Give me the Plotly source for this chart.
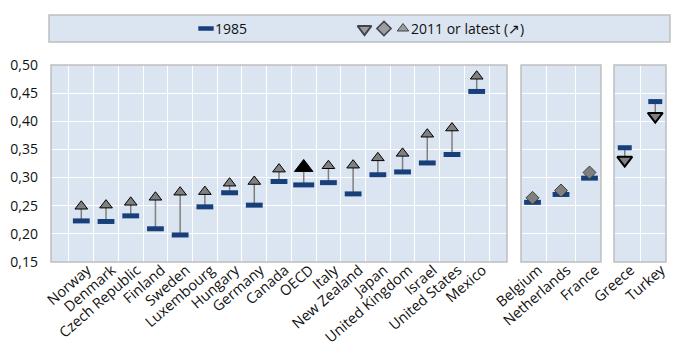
import plotly.graph_objects as go

# ---------------- data ----------------
panel1 = ["Norway", "Denmark", "Czech Republic", "Finland", "Sweden", "Luxembourg",
          "Hungary", "Germany", "Canada", "OECD", "Italy", "New Zealand", "Japan",
          "United Kingdom", "Israel", "United States", "Mexico"]
p1_1985 = [0.223, 0.222, 0.232, 0.209, 0.198, 0.248, 0.273, 0.251, 0.293, 0.287,
           0.291, 0.271, 0.305, 0.310, 0.326, 0.341, 0.453]
p1_2011 = [0.249, 0.251, 0.256, 0.265, 0.274, 0.275, 0.290, 0.293, 0.315, 0.318,
           0.321, 0.322, 0.335, 0.343, 0.377, 0.388, 0.480]

panel2 = ["Belgium", "Netherlands", "France"]
p2_1985 = [0.256, 0.270, 0.299]
p2_2011 = [0.264, 0.277, 0.309]

panel3 = ["Greece", "Turkey"]
p3_1985 = [0.353, 0.435]
p3_2011 = [0.331, 0.409]

y_ticks = [0.15, 0.20, 0.25, 0.30, 0.35, 0.40, 0.45, 0.50]

# ---------------- style ----------------
FONT = "Open Sans, sans-serif"
BG = "#dbe5f1"
BLUE = "#17407a"
GREY = "#7f7f7f"
BORDER = "#bfbfbf"
TXT = "#111111"

W, H = 680, 352
ML, MR, MT, MB = 51, 14, 0, 90
PW = W - ML - MR
PH = H - MT - MB


def px_x(p):
    return (p - ML) / PW


def px_y(p):
    return (H - MB - p) / PH


fig = go.Figure()

panels = [
    ("x", panel1, p1_1985, p1_2011),
    ("x2", panel2, p2_1985, p2_2011),
    ("x3", panel3, p3_1985, p3_2011),
]

for xa, cats, v85, v11 in panels:
    lx, ly = [], []
    for c, a, b in zip(cats, v85, v11):
        lx += [c, c, None]
        ly += [a, b, None]
    fig.add_trace(go.Scatter(x=lx, y=ly, mode="lines", xaxis=xa, yaxis="y",
                             line=dict(color=GREY, width=1.5), hoverinfo="skip",
                             showlegend=False))
    sizes = [15 if c == "OECD" else (10 if xa == "x3" else 12) for c in cats]
    fig.add_trace(go.Scatter(x=cats, y=v85, mode="markers", xaxis=xa, yaxis="y",
                             marker=dict(symbol="line-ew", size=sizes, opacity=1,
                                         color=BLUE,
                                         line=dict(color=BLUE, width=5)),
                             showlegend=False, name="1985"))

# 2011 markers
fig.add_trace(go.Scatter(
    x=panel1, y=p1_2011, mode="markers", xaxis="x", yaxis="y",
    marker=dict(symbol="triangle-up", opacity=1,
                size=[16 if c == "OECD" else 11 for c in panel1],
                color=["#000000" if c == "OECD" else "#808080" for c in panel1],
                line=dict(color="#000000", width=1)),
    showlegend=False, name="2011"))
fig.add_trace(go.Scatter(
    x=panel2, y=p2_2011, mode="markers", xaxis="x2", yaxis="y",
    marker=dict(symbol="diamond", size=10, color="#808080", opacity=1,
                line=dict(color="#404040", width=1)),
    showlegend=False, name="2011"))
fig.add_trace(go.Scatter(
    x=panel3, y=p3_2011, mode="markers", xaxis="x3", yaxis="y",
    marker=dict(symbol="triangle-down", size=13, color="#808080", opacity=1,
                line=dict(color="#000000", width=2)),
    showlegend=False, name="2011"))

# legend icons on a helper axis measured in pixels
leg_y0, leg_y1 = 15, 42
fig.add_trace(go.Scatter(
    x=[206], y=[28.5], mode="markers", xaxis="x4", yaxis="y4",
    marker=dict(symbol="line-ew", size=11, color=BLUE,
                line=dict(color=BLUE, width=4.5)),
    showlegend=False, hoverinfo="skip"))
fig.add_trace(go.Scatter(
    x=[364.5, 384, 403], y=[29, 28.5, 28.5], mode="markers", xaxis="x4", yaxis="y4",
    marker=dict(symbol=["triangle-down", "diamond", "triangle-up"],
                size=[12, 11, 10], color="#808080",
                line=dict(color="#000000", width=[2, 1.5, 1])),
    showlegend=False, hoverinfo="skip"))

d1 = [0, px_x(507)]
d2 = [px_x(521), px_x(601)]
d3 = [px_x(614), 1]
ydom = [0, px_y(65)]

common_x = dict(type="category", tickson="boundaries", showgrid=True,
                gridcolor="white", gridwidth=1, ticks="", zeroline=False,
                tickangle=-41, tickfont=dict(family=FONT, size=14.5, color=TXT),
                anchor="y", fixedrange=True, automargin=False,
                ticklabelstandoff=-4, ticklabelshift=6)

fig.update_layout(
    width=W, height=H,
    margin=dict(l=ML, r=MR, t=MT, b=MB, autoexpand=False),
    paper_bgcolor="white", plot_bgcolor=BG,
    separators=", ",
    font=dict(family=FONT, size=14, color=TXT),
    xaxis=dict(domain=d1, categoryorder="array", categoryarray=panel1, **common_x),
    xaxis2=dict(domain=d2, categoryorder="array", categoryarray=panel2, **common_x),
    xaxis3=dict(domain=d3, categoryorder="array", categoryarray=panel3, **common_x),
    yaxis=dict(domain=ydom, range=[0.15, 0.50], tickvals=y_ticks, tickformat=".2f",
               showgrid=True, gridcolor="white", gridwidth=1, zeroline=False,
               ticks="", tickfont=dict(family=FONT, size=14, color=TXT),
               anchor="x", fixedrange=True, ticklabelstandoff=12, automargin=False),
    xaxis4=dict(domain=[0, 1], range=[ML, W - MR], visible=False, anchor="y4",
                fixedrange=True, automargin=False),
    yaxis4=dict(domain=[px_y(leg_y1), px_y(leg_y0)], range=[leg_y1, leg_y0],
                visible=False, anchor="x4", fixedrange=True, automargin=False),
    showlegend=False,
)

shapes = []
for xr in ["x", "x2", "x3"]:
    shapes.append(dict(type="rect", xref=f"{xr} domain", yref="y domain",
                       x0=0, x1=1, y0=0, y1=1, line=dict(color=BORDER, width=1.5),
                       fillcolor="rgba(0,0,0,0)", layer="above"))
shapes.append(dict(type="rect", xref="paper", yref="paper",
                   x0=px_x(49), x1=px_x(670), y0=px_y(leg_y1), y1=px_y(leg_y0),
                   line=dict(color=BORDER, width=1.5), fillcolor=BG, layer="below"))
fig.update_layout(shapes=shapes)

fig.add_annotation(x=px_x(213), y=px_y(28.5), xref="paper", yref="paper",
                   text="1985", showarrow=False, xanchor="left", yanchor="middle",
                   font=dict(family=FONT, size=14, color=TXT))
fig.add_annotation(x=px_x(409), y=px_y(28.5), xref="paper", yref="paper",
                   text="2011 or latest (↗)", showarrow=False, xanchor="left",
                   yanchor="middle", font=dict(family=FONT, size=14, color=TXT))

fig.write_html("out.html")
